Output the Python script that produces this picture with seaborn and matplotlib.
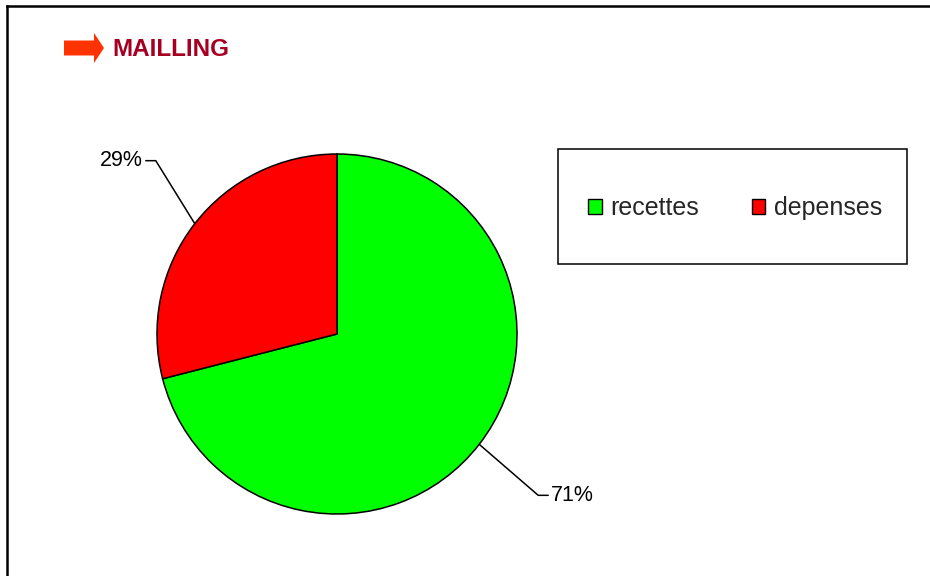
import numpy as np
import seaborn as sns
import matplotlib.pyplot as plt
from matplotlib.patches import Patch, Rectangle, FancyArrow

# data
categories = ["recettes", "depenses"]
values = [71, 29]
colors = ["#00FF00", "#FF0000"]
title = "MAILLING"

sns.set_theme(style="white")
plt.rcParams['font.family'] = ['Liberation Sans', 'DejaVu Sans']

W, H = 930, 576
fig = plt.figure(figsize=(W / 100, H / 100), dpi=100)
ax = fig.add_axes([0, 0, 1, 1])

# pie
cx, cy, r = 337, H - 334, 180
wedges, _ = ax.pie(values, colors=colors, startangle=90, counterclock=False,
                   center=(cx, cy), radius=r, frame=True,
                   wedgeprops=dict(edgecolor="black", linewidth=1.1))
ax.set_xlim(0, W)
ax.set_ylim(0, H)
ax.set_aspect("equal")
ax.set_axis_off()

# leader lines + percent labels (elbow offsets in pixels from the wedge edge)
elbow = [(59, -51), (-39, 63)]
for w, v, (dx, dy) in zip(wedges, values, elbow):
    mid = np.deg2rad((w.theta1 + w.theta2) / 2)
    x0, y0 = cx + r * np.cos(mid), cy + r * np.sin(mid)
    x1, y1 = x0 + dx, y0 + dy
    side = 1 if dx > 0 else -1
    x2 = x1 + side * 10
    ax.plot([x0, x1, x2], [y0, y1, y1], color="black", lw=1.1)
    ax.text(x2 + side * 3, y1, f"{v}%", ha="left" if side > 0 else "right",
            va="center", fontsize=15.5, color="black")

# legend box
ax.add_patch(Rectangle((558, H - 264), 349, 115, fill=False,
                       edgecolor="black", lw=1.1))
handles = [Patch(facecolor=c, edgecolor="black", linewidth=1.0, label=l)
           for c, l in zip(colors, categories)]
ax.legend(handles=handles, loc="center", ncol=2, frameon=False,
          bbox_to_anchor=(735 / W, (H - 208) / H),
          bbox_transform=fig.transFigure, fontsize=18,
          handlelength=0.55, handleheight=0.55, handletextpad=0.35,
          columnspacing=2.1, borderpad=0, borderaxespad=0)

# title with arrow
ax.add_patch(FancyArrow(64, H - 48, 40, 0, width=15, head_width=30,
                        head_length=10, length_includes_head=True,
                        color="#FF3300", lw=0))
ax.text(112, H - 49, title, ha="left", va="center", fontsize=17.5,
        fontweight="bold", color="#A50021")

# outer frame (top and left only visible)
ax.plot([7, 7], [0, H - 5.5], color="black", lw=1.8, solid_capstyle="projecting")
ax.plot([7, W], [H - 5.5, H - 5.5], color="black", lw=1.8, solid_capstyle="projecting")

fig.savefig("out.png", dpi=100)
